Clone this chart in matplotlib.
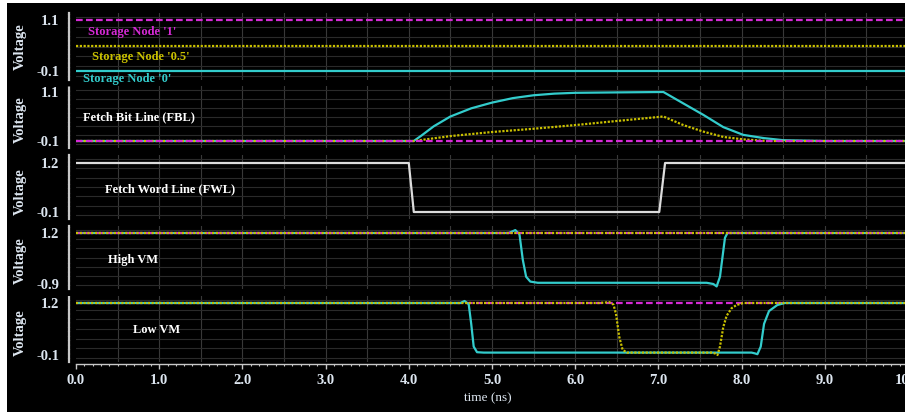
import matplotlib
matplotlib.use('Agg')
import matplotlib.pyplot as plt
from matplotlib.patches import Rectangle
import numpy as np

# ---------------- data ----------------
x_ticks = [0, 1, 2, 3, 4, 5, 6, 7, 8, 9, 10]
x_tick_labels = ['0.0', '1.0', '2.0', '3.0', '4.0', '5.0', '6.0', '7.0', '8.0', '9.0', '10.0']

# Panel 1: storage nodes
sn_t = [0.0, 10.0]
sn1_v = [1.1, 1.1]
sn05_v = [0.5, 0.5]
sn0_v = [-0.1, -0.1]

# Panel 2: Fetch Bit Line
fbl1_t = [0.0, 10.0]
fbl1_v = [-0.1, -0.1]
fbl05_t = [0.0, 4.06, 4.5, 5.0, 5.5, 6.0, 6.5, 7.06, 7.3, 7.54, 7.78, 8.02, 8.3, 10.0]
fbl05_v = [-0.1, -0.1, 0.02, 0.12, 0.20, 0.29, 0.39, 0.50, 0.29, 0.13, 0.0, -0.06, -0.1, -0.1]
fbl0_t = [0.0, 4.06, 4.15, 4.3, 4.5, 4.75, 5.0, 5.25, 5.5, 5.75, 6.0, 6.5, 7.06,
          7.3, 7.54, 7.78, 8.02, 8.27, 8.5, 8.75, 9.0, 10.0]
fbl0_v = [-0.1, -0.1, 0.03, 0.26, 0.50, 0.70, 0.84, 0.95, 1.02, 1.06, 1.08, 1.09, 1.10,
          0.82, 0.54, 0.24, 0.05, -0.03, -0.08, -0.09, -0.1, -0.1]

# Panel 3: Fetch Word Line
fwl_t = [0.0, 4.0, 4.06, 7.01, 7.08, 10.0]
fwl_v = [1.2, 1.2, -0.1, -0.1, 1.2, 1.2]

# Panel 4: High VM
hvm1_t = [0.0, 10.0]
hvm1_v = [1.2, 1.2]
hvm05_t = [0.0, 10.0]
hvm05_v = [1.2, 1.2]
hvm0_t = [0.0, 5.20, 5.28, 5.33, 5.37, 5.41, 5.46, 5.55, 7.58, 7.66, 7.70, 7.74, 7.77, 7.80, 7.83, 10.0]
hvm0_v = [1.2, 1.2, 1.32, 1.15, 0.10, -0.60, -0.80, -0.85, -0.85, -0.90, -1.00, -0.60, 0.20, 1.00, 1.2, 1.2]

# Panel 5: Low VM
lvm1_t = [0.0, 10.0]
lvm1_v = [1.2, 1.2]
lvm05_t = [0.0, 6.29, 6.41, 6.46, 6.49, 6.53, 6.57, 6.62, 7.64, 7.68, 7.71, 7.74,
           7.78, 7.82, 7.88, 7.94, 8.02, 10.0]
lvm05_v = [1.2, 1.2, 1.22, 1.16, 0.93, 0.35, 0.03, -0.04, -0.04, -0.06, -0.10, 0.11,
           0.60, 0.88, 1.07, 1.15, 1.2, 1.2]
lvm0_t = [0.0, 4.62, 4.67, 4.72, 4.75, 4.78, 4.82, 4.90, 8.12, 8.16, 8.19, 8.23,
          8.27, 8.33, 8.43, 8.52, 10.0]
lvm0_v = [1.2, 1.2, 1.25, 1.17, 0.68, 0.11, -0.03, -0.04, -0.04, -0.06, -0.08, 0.11,
          0.68, 1.00, 1.15, 1.2, 1.2]

panel_ticks = [(1.1, -0.1), (1.1, -0.1), (1.2, -0.1), (1.2, -0.9), (1.2, -0.1)]
panel_tick_labels = [('1.1', '-0.1'), ('1.1', '-0.1'), ('1.2', '-0.1'), ('1.2', '-0.9'), ('1.2', '-0.1')]

# ---------------- styling / layout ----------------
W, H = 905, 412
MAG = '#d52ad5'
YEL = '#c9c000'
CYA = '#33cccc'
WHT = '#dcdcdc'
TXT = '#dde6f0'
SERIF = ['Liberation Serif', 'DejaVu Serif']

fig = plt.figure(figsize=(W / 100, H / 100), dpi=100, facecolor='white')
fig.add_artist(Rectangle((7 / W, 0), 1, (H - 3) / H, transform=fig.transFigure,
                         facecolor='black', edgecolor='none', zorder=-10))

# (pixel y of top tick, pixel y of bottom tick, axes top px, axes bottom px)
geom = [(20, 71, 13, 80), (92, 141, 86, 148), (163, 212, 155, 219),
        (233, 284, 226, 289), (303, 355, 296, 362)]
x_left, x_right = 76, 908

axes = []
for i, (yt, yb, at, ab) in enumerate(geom):
    vt, vb = panel_ticks[i]
    scale = (vt - vb) / (yb - yt)
    ylo = vb - (ab - yb) * scale
    yhi = vt + (yt - at) * scale
    ax = fig.add_axes([x_left / W, 1 - ab / H, (x_right - x_left) / W, (ab - at) / H])
    ax.set_facecolor('none')
    ax.set_xlim(0, 10)
    ax.set_ylim(ylo, yhi)
    # grid
    for g in np.arange(0.5, 10.0, 0.5):
        ax.axvline(g, color='#383838', lw=0.8, zorder=0)
    for f in np.linspace(0.06, 0.94, 7):
        ax.plot([0, 1], [f, f], transform=ax.transAxes, color='#2a2a2a', lw=0.8, zorder=0)
    for s in ['top', 'right', 'bottom']:
        ax.spines[s].set_visible(False)
    ax.spines['left'].set_position(('outward', 5))
    ax.spines['left'].set_color('#c8c8c8')
    ax.spines['left'].set_linewidth(1.6)
    ax.spines['left'].set_linestyle((0, (1.2, 0.8)))
    ax.set_yticks([vt, vb])
    ax.set_yticklabels(panel_tick_labels[i], family=SERIF, fontweight='bold', fontsize=10.5, color=TXT)
    ax.tick_params(axis='y', length=0, pad=7)
    ax.set_xticks([])
    axes.append(ax)

ax1, ax2, ax3, ax4, ax5 = axes

lw = 1.6
dash = (0, (3, 1.5))
dot = (0, (1, 0.7))

ax1.plot(sn_t, sn1_v, color=MAG, lw=lw, ls=dash)
ax1.plot(sn_t, sn05_v, color=YEL, lw=lw, ls=dot)
ax1.plot(sn_t, sn0_v, color=CYA, lw=lw)

ax2.plot(fbl0_t, fbl0_v, color=CYA, lw=lw)
ax2.plot(fbl05_t, fbl05_v, color=YEL, lw=lw, ls=dot)
ax2.plot(fbl1_t, fbl1_v, color=MAG, lw=lw, ls=dash)

ax3.plot(fwl_t, fwl_v, color=WHT, lw=lw)

ax4.plot(hvm0_t, hvm0_v, color=CYA, lw=lw)
ax4.plot(hvm1_t, hvm1_v, color=MAG, lw=lw, ls=dash)
ax4.plot(hvm05_t, hvm05_v, color=YEL, lw=lw, ls=dot)

ax5.plot(lvm1_t, lvm1_v, color=MAG, lw=lw, ls=dash)
ax5.plot(lvm0_t, lvm0_v, color=CYA, lw=lw)
ax5.plot(lvm05_t, lvm05_v, color=YEL, lw=lw, ls=dot)

# bottom axis
ax5.spines['bottom'].set_visible(True)
ax5.spines['bottom'].set_position(('outward', 1.5))
ax5.spines['bottom'].set_color('#c8c8c8')
ax5.spines['bottom'].set_linewidth(1.0)
ax5.set_xticks(x_ticks)
ax5.set_xticklabels(x_tick_labels, family=SERIF, fontweight='bold', fontsize=10.5, color=TXT)
ax5.set_xticks(np.arange(0, 10.01, 0.1), minor=True)
ax5.tick_params(axis='x', which='major', length=3.5, width=1.0, color='#c8c8c8', pad=4)
ax5.tick_params(axis='x', which='minor', length=1.5, width=0.8, color='#c8c8c8')


def ftext(x, y, s, **kw):
    fig.text(x / W, 1 - y / H, s, family=SERIF, **kw)


# y labels
for yc in [47, 120, 192, 261, 333]:
    ftext(20, yc, 'Voltage', rotation=90, ha='center', va='center', fontsize=10.5,
          fontweight='bold', color=TXT)

ftext(88, 32, "Storage Node '1'", ha='left', va='center', fontsize=9, fontweight='bold', color=MAG)
ftext(92, 57, "Storage Node '0.5'", ha='left', va='center', fontsize=9, fontweight='bold', color=YEL)
ftext(83, 79, "Storage Node '0'", ha='left', va='center', fontsize=9, fontweight='bold', color=CYA)
ftext(83, 117, "Fetch Bit Line (FBL)", ha='left', va='center', fontsize=9, fontweight='bold', color='white')
ftext(105, 189, "Fetch Word Line (FWL)", ha='left', va='center', fontsize=9, fontweight='bold', color='white')
ftext(108, 260, "High VM", ha='left', va='center', fontsize=9, fontweight='bold', color='white')
ftext(133, 330, "Low VM", ha='left', va='center', fontsize=9, fontweight='bold', color='white')
ftext(488, 398, "time (ns)", ha='center', va='center', fontsize=9.5, color=TXT)

fig.savefig('out.png', dpi=100, facecolor='white')
